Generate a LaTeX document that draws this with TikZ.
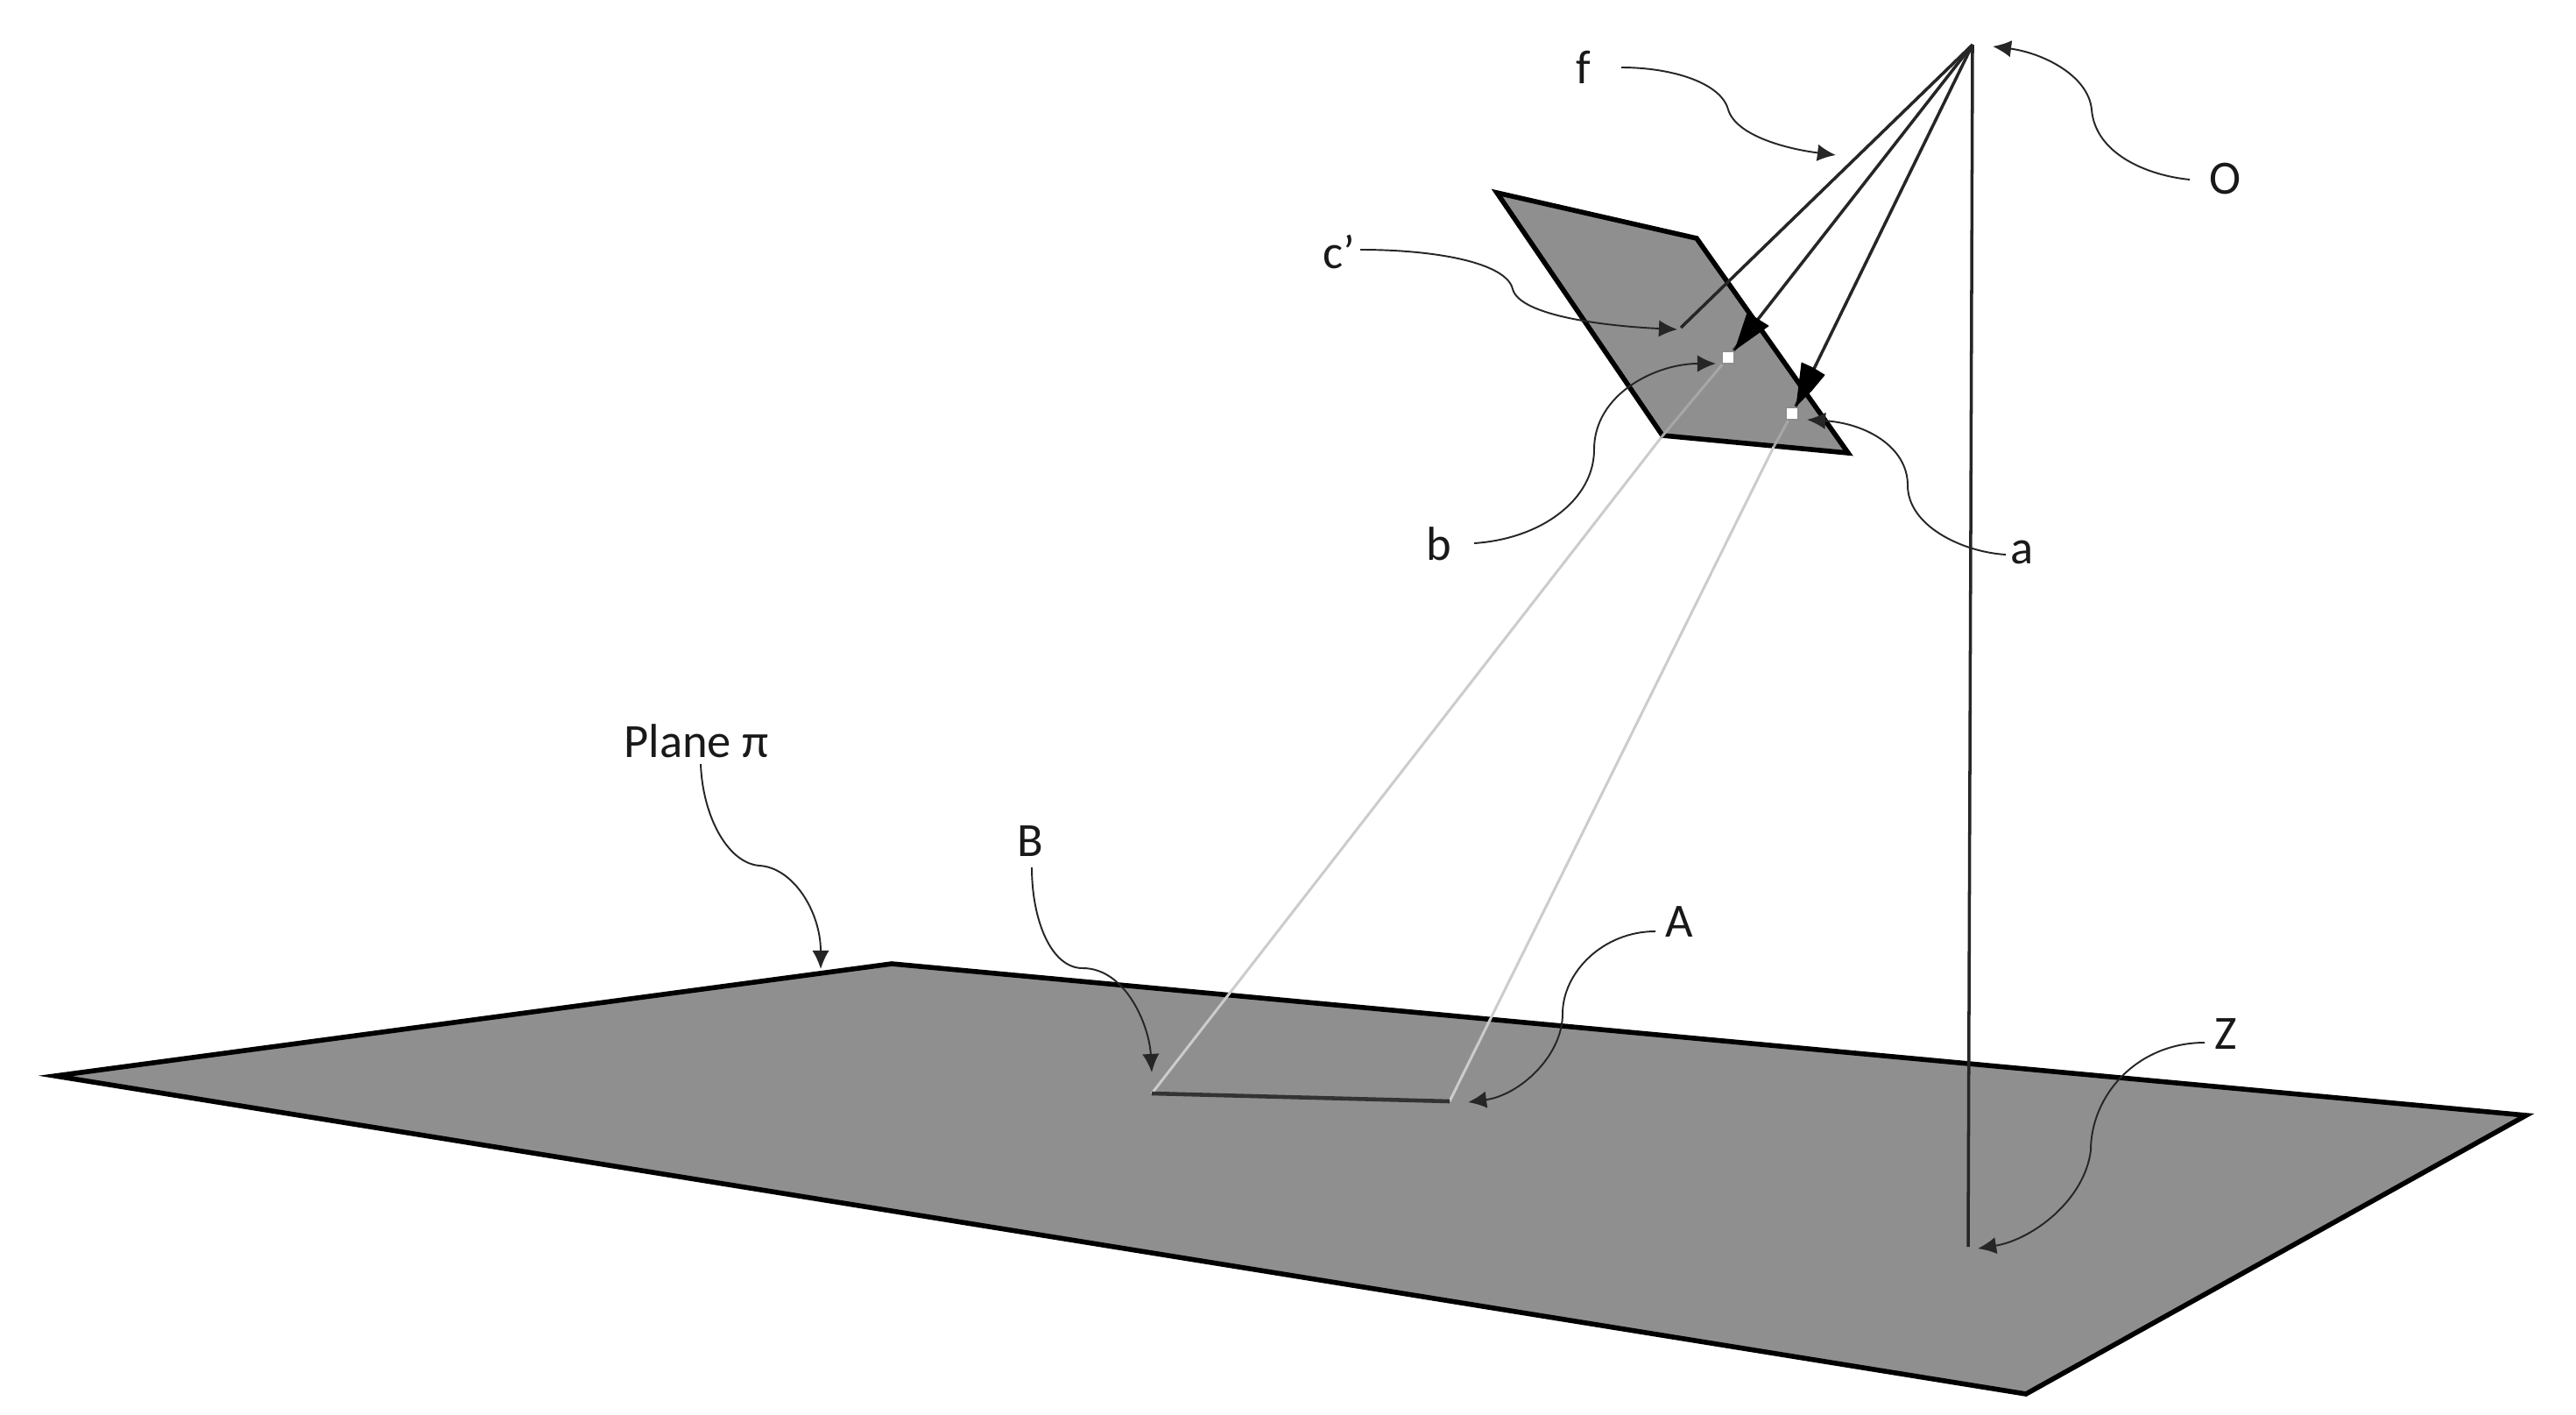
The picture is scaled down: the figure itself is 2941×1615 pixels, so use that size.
\documentclass[tikz,border=0pt]{standalone}
\usepackage{fontspec}
\setmainfont{Carlito}
\usetikzlibrary{arrows.meta}
\definecolor{planegray}{HTML}{8F8F8F}
\definecolor{raygray}{HTML}{CCCCCC}
\tikzset{
  px/.style={x=0.02cm,y=-0.02cm},
  planeshape/.style={fill=planegray,draw=black,line width=3.2pt,line join=miter},
  rayline/.style={draw=black!85,line width=2pt},
  lightray/.style={draw=raygray,line width=1.7pt},
  callout/.style={draw=black!85,line width=1.1pt,-{Latex[length=12pt,width=11pt]}},
  lab/.style={font=\fontsize{31}{33}\selectfont,inner sep=0pt,text=black!90},
  imgpoint/.style={rectangle,draw=black!45,fill=white,line width=1.2pt,minimum size=8pt,inner sep=0pt},
  headfill/.style={fill=black,draw=black,line width=.5pt,line join=round}
}
\begin{document}
\begin{tikzpicture}[px]
\useasboundingbox[fill=white] (0,0) rectangle (2941,1615);
% ground plane
\coordinate (g1) at (63,1228);
\coordinate (g2) at (1018,1100);
\coordinate (g3) at (2884,1273);
\coordinate (g4) at (2313,1591);
\draw[planeshape] (g1)--(g2)--(g3)--(g4)--cycle;
% image plane
\coordinate (p1) at (1709,220);
\coordinate (p2) at (1937,272);
\coordinate (p3) at (2110,517);
\coordinate (p4) at (1898,497);
\draw[planeshape] (p1)--(p2)--(p3)--(p4)--cycle;
% points
\coordinate (O) at (2252,51);
\coordinate (Zp) at (2247,1423);
\coordinate (cp) at (1919,374);
\node[imgpoint] (bp) at (1973,408) {};
\node[imgpoint] (ap) at (2046,472) {};
\coordinate (Bp) at (1315,1248);
\coordinate (Ap) at (1655,1257);
% light rays
\draw[lightray] (Bp)--(1896,500);
\draw[lightray,draw=raygray!40!planegray] (1896,500)--(bp);
\draw[lightray] (Ap)--(2025,510);
\draw[lightray,draw=raygray!40!planegray] (2025,510)--(ap);
\draw[draw=black!80,line width=2.6pt] (Bp)--(Ap);
% rays from O
\draw[rayline] (O)--(Zp);
\draw[rayline] (O)--(cp);
\draw[rayline] (O)--(bp);
\draw[rayline] (O)--(ap);
% black heads
\coordinate (bh1) at (1995,357);
\coordinate (bh2) at (2019,372);
\coordinate (bh3) at (1981,399);
\coordinate (ah1) at (2057,414);
\coordinate (ah2) at (2083,428);
\coordinate (ah3) at (2068,446);
\coordinate (ah4) at (2051,463);
\draw[headfill] (bh1)--(bh2)--(bh3)--cycle;
\draw[headfill] (ah1)--(2070,420)--(ah2)--(ah3)--(ah4)--cycle;
% labels
\node[lab] (lf) at (1808,77) {f};
\node[lab] (lO) at (2540,204) {O};
\node[lab] (lc) at (1529,287) {c’};
\node[lab] (lb) at (1643,621) {b};
\node[lab] (la) at (2309,630) {a};
\node[lab] (lP) at (795,846) {Plane π};
\node[lab] (lB) at (1176,960) {B};
\node[lab] (lA) at (1917,1052) {A};
\node[lab] (lZ) at (2541,1180) {Z};
% call-out ends
\coordinate (sf) at (1851,77);   \coordinate (ef) at (2096,177);
\coordinate (sO) at (2500,205);  \coordinate (eO) at (2275,53);
\coordinate (sc) at (1553,285);  \coordinate (ec) at (1915,376);
\coordinate (sb) at (1683,620);  \coordinate (eb) at (1959,415);
\coordinate (sa) at (2290,633);  \coordinate (ea) at (2063,479);
\coordinate (sP) at (800,872);   \coordinate (eP) at (937,1106);
\coordinate (sB) at (1178,990);  \coordinate (eB) at (1315,1224);
\coordinate (sA) at (1890,1063); \coordinate (eA) at (1676,1258);
\coordinate (sZ) at (2517,1190); \coordinate (eZ) at (2258,1425);
% call-outs
\draw[callout] (sf) .. controls (1910,77) and (1965,95) .. (1973,125)
  .. controls (1982,155) and (2040,170) .. (ef);
\draw[callout] (sO) .. controls (2450,200) and (2392,175) .. (2388,125)
  .. controls (2384,85) and (2330,60) .. (eO);
\draw[callout] (sc) .. controls (1640,285) and (1720,300) .. (1727,330)
  .. controls (1735,360) and (1830,372) .. (ec);
\draw[callout] (sb) .. controls (1760,615) and (1820,570) .. (1820,513)
  .. controls (1820,450) and (1890,415) .. (eb);
\draw[callout] (sa) .. controls (2240,630) and (2178,600) .. (2178,554)
  .. controls (2178,510) and (2130,483) .. (ea);
\draw[callout] (sP) .. controls (802,930) and (830,985) .. (867,988)
  .. controls (905,990) and (937,1040) .. (eP);
\draw[callout] (sB) .. controls (1178,1050) and (1200,1105) .. (1236,1105)
  .. controls (1285,1105) and (1312,1170) .. (eB);
\draw[callout] (sA) .. controls (1830,1063) and (1784,1110) .. (1784,1157)
  .. controls (1784,1205) and (1735,1250) .. (eA);
\draw[callout] (sZ) .. controls (2440,1190) and (2387,1250) .. (2387,1313)
  .. controls (2380,1370) and (2320,1415) .. (eZ);
\end{tikzpicture}
\end{document}
